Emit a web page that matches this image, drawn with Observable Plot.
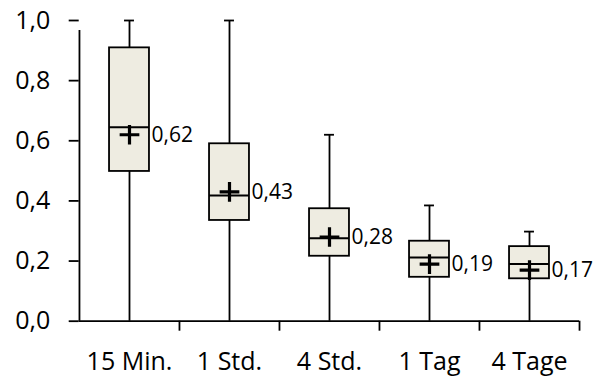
<!DOCTYPE html>
<html>
<head>
<meta charset="utf-8">
<script src="https://cdn.jsdelivr.net/npm/d3@7"></script>
<script src="https://cdn.jsdelivr.net/npm/@observablehq/plot@0.6"></script>
<style>
  html, body { margin: 0; padding: 0; background: #fff; }
  #chart svg { display: block; overflow: visible; }
</style>
</head>
<body>
<div id="chart"></div>
<script>
const categories = ["15 Min.", "1 Std.", "4 Std.", "1 Tag", "4 Tage"];
const minValues = [0, 0, 0, 0, 0];
const q1Values = [0.498, 0.335, 0.216, 0.146, 0.141];
const medianValues = [0.645, 0.418, 0.276, 0.212, 0.19];
const q3Values = [0.909, 0.590, 0.374, 0.266, 0.248];
const maxValues = [1.0, 1.0, 0.62, 0.385, 0.298];
const meanValues = [0.62, 0.43, 0.28, 0.19, 0.17];
const yTicks = [0, 0.2, 0.4, 0.6, 0.8, 1.0];

const data = categories.map((c, i) => ({
  cat: c, min: minValues[i], q1: q1Values[i], median: medianValues[i],
  q3: q3Values[i], max: maxValues[i], mean: meanValues[i]
}));

const W = 597, H = 377;
const mL = 78.7, mR = 18, mT = 20, mB = 56.3;
const band = (W - mL - mR) / categories.length;
const boxW = 40, capW = 10;
const boxInset = (band - boxW) / 2, capInset = (band - capW) / 2;
const fmt = v => v.toFixed(2).replace(".", ",");
const font = "'Open Sans', sans-serif";
const sw = 1.8;

const chart = Plot.plot({
  width: W, height: H,
  marginLeft: mL, marginRight: mR, marginTop: mT, marginBottom: mB,
  style: { fontFamily: font, color: "black", background: "white" },
  x: { domain: categories, padding: 0, axis: null, label: null },
  y: { domain: [0, 1], axis: null, label: null },
  marks: [
    // y axis
    Plot.axisY({ ticks: yTicks, tickSize: 10, tickPadding: 19, fontSize: 25, label: null,
      tickFormat: d => d.toFixed(1).replace(".", ","), strokeWidth: sw }),
    // x axis labels
    Plot.axisX({ tickSize: 0, tickPadding: 31, fontSize: 25, label: null }),
    // whiskers
    Plot.ruleX(data, { x: "cat", y1: "min", y2: "max", stroke: "black", strokeWidth: sw }),
    Plot.tickY(data, { x: "cat", y: "max", stroke: "black", strokeWidth: sw,
      insetLeft: capInset, insetRight: capInset }),
    // boxes
    Plot.barY(data, { x: "cat", y1: "q1", y2: "q3", fill: "#EEECE1", stroke: "black",
      strokeWidth: sw, insetLeft: boxInset, insetRight: boxInset }),
    // median
    Plot.tickY(data, { x: "cat", y: "median", stroke: "black", strokeWidth: 2,
      insetLeft: boxInset, insetRight: boxInset }),
    // mean marker
    Plot.dot(data, { x: "cat", y: "mean", symbol: "plus", r: 6.4, stroke: "black",
      strokeWidth: 3.2 }),
    // mean labels
    Plot.text(data, { x: "cat", y: "mean", text: d => fmt(d.mean), textAnchor: "start",
      dx: boxW / 2 + 2, fontSize: 21, fill: "black", fontFamily: font }),
    // axes lines
    Plot.ruleY([0], { stroke: "black", strokeWidth: sw }),
    Plot.ruleX([categories[0]], { x: d => d, y1: 0, y2: 1, dx: -band / 2,
      insetBottom: -10, stroke: "black", strokeWidth: sw }),
    // x axis ticks at band boundaries
    Plot.ruleX(categories.slice(1), { x: d => d, y1: 0, y2: 0, dx: -band / 2,
      insetBottom: -10, stroke: "black", strokeWidth: sw }),
    Plot.ruleX(categories.slice(-1), { x: d => d, y1: 0, y2: 0, dx: band / 2,
      insetBottom: -10, stroke: "black", strokeWidth: sw })
  ]
});
document.getElementById("chart").appendChild(chart);
</script>
</body>
</html>
